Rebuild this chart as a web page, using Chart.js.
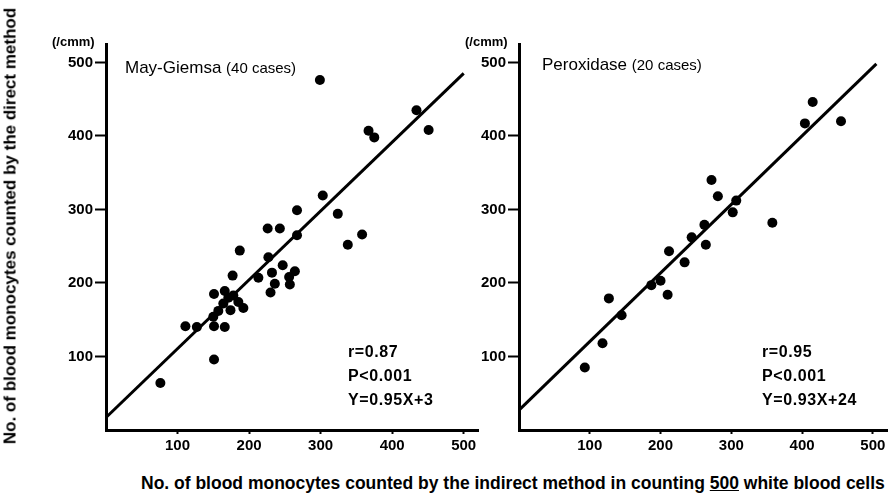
<!DOCTYPE html>
<html>
<head>
<meta charset="utf-8">
<script src="https://cdn.jsdelivr.net/npm/chart.js@4.4.0/dist/chart.umd.min.js"></script>
<style>
  html, body { margin: 0; padding: 0; background: #fff; }
  #wrap { position: relative; width: 892px; height: 504px; overflow: hidden; font-family: "Liberation Sans", Arial, sans-serif; color: #000; }
  canvas { position: absolute; top: 0; }
  .txt { position: absolute; white-space: nowrap; font-weight: bold; line-height: 1; }
  .stat { font-size: 16px; letter-spacing: 0.6px; }
  .ttl { font-size: 17px; font-weight: normal; }
  .ttl small { font-size: 15px; }
</style>
</head>
<body>
<div id="wrap">
  <canvas id="chartGiemsa" width="490" height="460" style="left:0px"></canvas>
  <canvas id="chartPerox" width="472" height="460" style="left:420px"></canvas>

  <div class="txt" id="yTitle" style="font-size:17px; left:10px; top:226px; transform: translate(-50%,-50%) rotate(-90deg);">No. of blood monocytes counted by the direct method</div>
  <div class="txt" style="font-size:17.5px; left:141px; top:475px;">No. of blood monocytes counted by the indirect method in counting <u>500</u> white blood cells</div>

  <div class="txt" style="font-size:13px; left:52px; top:35px;">(/cmm)</div>
  <div class="txt" style="font-size:13px; left:465px; top:35px;">(/cmm)</div>

  <div class="txt ttl" style="left:125px; top:59px;">May-Giemsa <small>(40 cases)</small></div>
  <div class="txt ttl" style="left:542px; top:56px;">Peroxidase <small>(20 cases)</small></div>

  <div class="txt stat" style="left:348px; top:344px;">r=0.87</div>
  <div class="txt stat" style="left:348px; top:368px;">P&lt;0.001</div>
  <div class="txt stat" style="left:348px; top:392px;">Y=0.95X+3</div>

  <div class="txt stat" style="left:762px; top:344px;">r=0.95</div>
  <div class="txt stat" style="left:762px; top:368px;">P&lt;0.001</div>
  <div class="txt stat" style="left:762px; top:392px;">Y=0.93X+24</div>
</div>

<script>
// May-Giemsa (40 cases): indirect (x) vs direct (y), /cmm
var giemsaX = [299, 434, 451, 367, 375, 303, 324, 267, 226, 243, 267, 358, 338, 187, 227, 247, 232, 264, 256, 257,
               213, 236, 230, 177, 151, 166, 178, 164, 171, 185, 192, 157, 174, 150, 111, 127, 151, 166, 151, 76];
var giemsaY = [476, 435, 408, 407, 398, 319, 294, 299, 274, 274, 265, 266, 252, 244, 235, 224, 214, 216, 208, 198,
               207, 199, 187, 210, 185, 189, 183, 172, 180, 174, 166, 162, 163, 154, 141, 140, 141, 140, 96, 64];

// Peroxidase (20 cases)
var peroxX = [415, 404, 455, 272, 281, 307, 302, 358, 262, 264, 244, 212, 234, 200, 187, 210, 127, 145, 118, 93];
var peroxY = [446, 417, 420, 340, 318, 312, 296, 282, 279, 252, 262, 243, 228, 203, 197, 184, 179, 156, 118, 85];

// regression lines, end points as drawn
var giemsaLineX = [0, 500];
var giemsaLineY = [17, 485];
var peroxLineX = [0, 505];
var peroxLineY = [27, 498];

var axisMax = 520;
var axisMaxY = 525;

function toPoints(xs, ys) {
  var pts = [];
  for (var i in xs) {
    pts.push({x: xs[i], y: ys[i]});
  }
  return pts;
}

function dropZero(scale) {
  scale.ticks = scale.ticks.filter(function(t) { return t.value > 0; });
}

var tickFont = {family: "'Liberation Sans', Arial, sans-serif", size: 15, weight: 'bold'};

function makeChart(id, xs, ys, lx, ly, yWidth, padRight) {
  var ctx = document.getElementById(id);
  return new Chart(ctx, {
    type: 'scatter',
    data: {
      datasets: [
        {
          data: toPoints(xs, ys),
          pointRadius: 5,
          pointBackgroundColor: '#000',
          pointBorderWidth: 0
        },
        {
          type: 'line',
          data: toPoints(lx, ly),
          showLine: true,
          borderColor: '#000',
          borderWidth: 3,
          pointRadius: 0,
          fill: false
        }
      ]
    },
    options: {
      responsive: false,
      animation: false,
      layout: { padding: { left: 0, top: 44, right: padRight, bottom: 0 } },
      plugins: { legend: { display: false }, tooltip: { enabled: false } },
      scales: {
        x: {
          type: 'linear',
          min: 0,
          max: axisMax,
          border: { color: '#000', width: 3 },
          grid: { drawOnChartArea: false, tickLength: 4, tickWidth: 2, tickColor: '#000' },
          ticks: { stepSize: 100, includeBounds: false, color: '#000', font: tickFont, padding: 3, maxRotation: 0 },
          afterBuildTicks: dropZero,
          afterFit: function(s) { s.height = 30; }
        },
        y: {
          type: 'linear',
          min: 0,
          max: axisMaxY,
          border: { color: '#000', width: 3 },
          grid: { drawOnChartArea: false, tickLength: 11, tickWidth: 2, tickColor: '#000' },
          ticks: { stepSize: 100, includeBounds: false, color: '#000', font: tickFont, padding: 2 },
          afterBuildTicks: dropZero,
          afterFit: function(s) { s.width = yWidth; }
        }
      }
    }
  });
}

makeChart('chartGiemsa', giemsaX, giemsaY, giemsaLineX, giemsaLineY, 106, 12);
makeChart('chartPerox', peroxX, peroxY, peroxLineX, peroxLineY, 99, 0);
</script>
</body>
</html>
